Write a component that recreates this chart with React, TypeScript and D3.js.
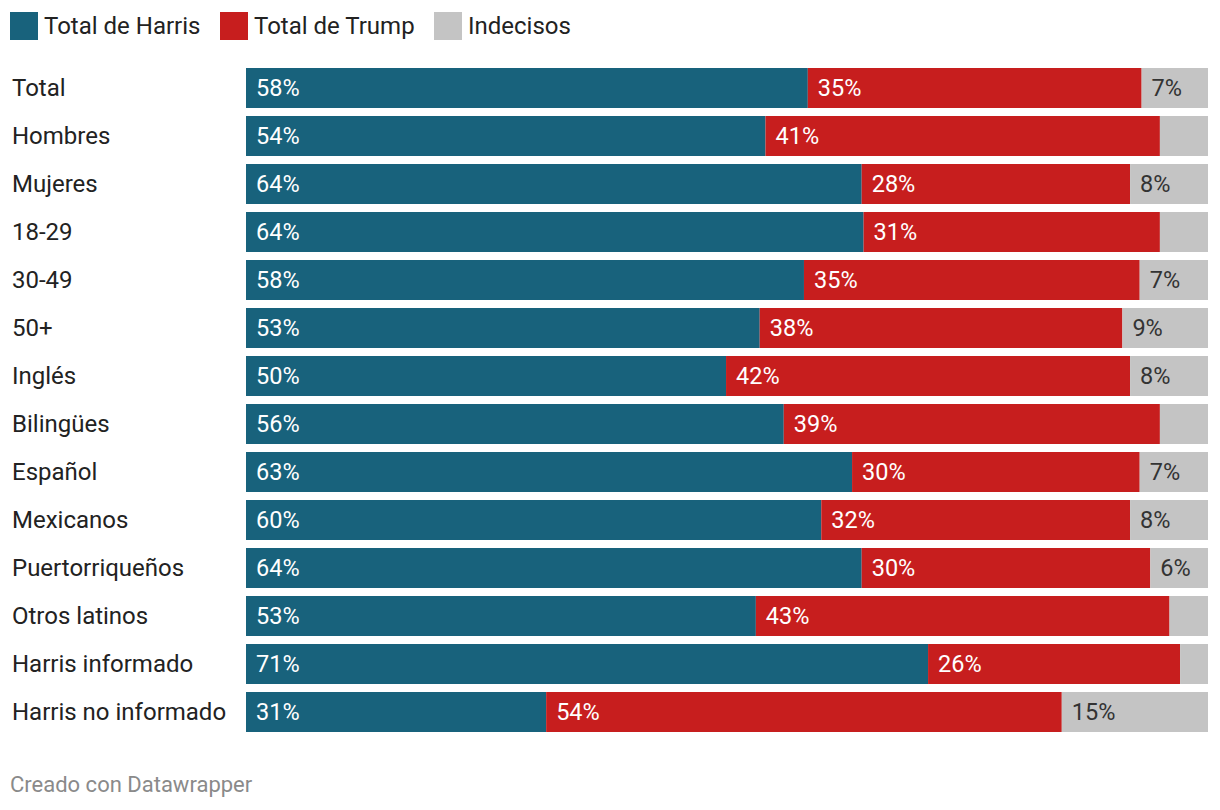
import React from "react";
import * as d3 from "d3";

const categories = [
  "Total",
  "Hombres",
  "Mujeres",
  "18-29",
  "30-49",
  "50+",
  "Inglés",
  "Bilingües",
  "Español",
  "Mexicanos",
  "Puertorriqueños",
  "Otros latinos",
  "Harris informado",
  "Harris no informado",
];

const harris = [58.4, 54.0, 64.0, 64.2, 58.0, 53.4, 49.9, 55.9, 63.0, 59.8, 64.0, 53.0, 70.9, 31.2];
const trump = [34.7, 41.0, 27.9, 30.8, 34.9, 37.7, 42.0, 39.1, 29.9, 32.1, 30.0, 43.0, 26.2, 53.6];
const indecisos = [6.9, 5.0, 8.1, 5.0, 7.1, 8.9, 8.1, 5.0, 7.1, 8.1, 6.0, 4.0, 2.9, 15.2];

const seriesNames = ["Total de Harris", "Total de Trump", "Indecisos"];
const seriesColors = ["#18627c", "#c71e1e", "#c4c4c4"];
const labelColors = ["#ffffff", "#ffffff", "#333333"];

const FONT = "Roboto, 'Noto Sans', sans-serif";

export default function App() {
  const W = 1220;
  const H = 810;
  const x = d3.scaleLinear().domain([0, 100]).range([246, 1208]);
  const y = d3
    .scaleBand<string>()
    .domain(categories)
    .range([68, 732])
    .paddingInner(8 / 48)
    .paddingOuter(0);

  const rows = categories.map((c, i) => ({
    cat: c,
    vals: [harris[i], trump[i], indecisos[i]],
  }));

  const legendX = [10, 220, 434];

  return (
    <svg
      width={W}
      height={H}
      style={{ position: "absolute", left: 0, top: 0, background: "#fff" }}
      fontFamily={FONT}
    >
      {/* legend */}
      {seriesNames.map((s, i) => (
        <g key={s} transform={`translate(${legendX[i]},12)`}>
          <rect width={28} height={28} fill={seriesColors[i]} />
          <text x={34} y={14} dy="0.35em" fontSize={24} fill="#222">
            {s}
          </text>
        </g>
      ))}

      {rows.map((r) => {
        let acc = 0;
        const y0 = y(r.cat)!;
        const bw = y.bandwidth();
        return (
          <g key={r.cat}>
            <text x={12} y={y0 + bw / 2} dy="0.35em" fontSize={24} fill="#222">
              {r.cat}
            </text>
            {r.vals.map((v, j) => {
              const x0 = x(acc);
              const x1 = j === 2 ? x(100) : x(acc + v);
              acc += v;
              const w = x1 - x0;
              return (
                <g key={j}>
                  <rect x={x0} y={y0} width={w} height={bw} fill={seriesColors[j]} />
                  {w > 52 && (
                    <text
                      x={x0 + 10}
                      y={y0 + bw / 2}
                      dy="0.35em"
                      fontSize={23.5}
                      fill={labelColors[j]}
                    >
                      {Math.round(v)}%
                    </text>
                  )}
                </g>
              );
            })}
          </g>
        );
      })}

      <text x={10} y={784} dy="0.35em" fontSize={22} fill="#8a8a8a">
        Creado con Datawrapper
      </text>
    </svg>
  );
}
